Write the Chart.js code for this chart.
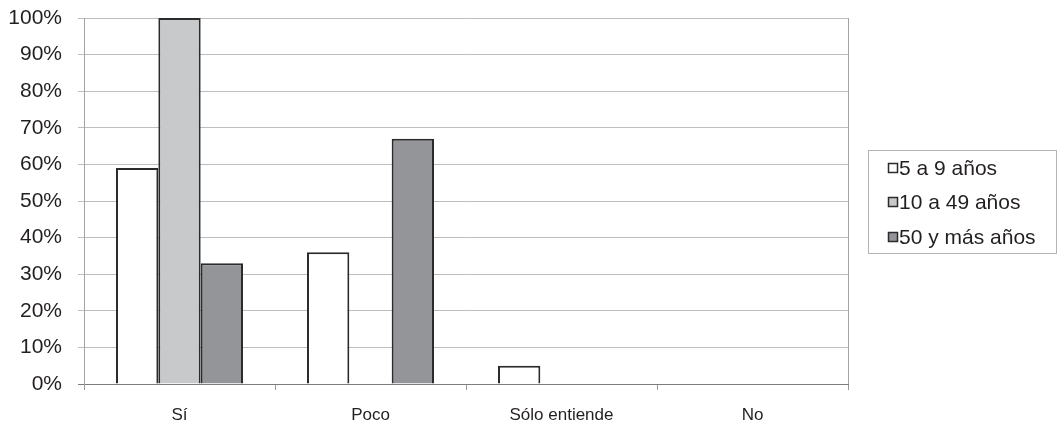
<!DOCTYPE html>
<html>
<head>
<meta charset="utf-8">
<script src="https://cdn.jsdelivr.net/npm/chart.js@4/dist/chart.umd.min.js"></script>
<style>
  html, body { margin: 0; padding: 0; background: #ffffff; }
  #wrap { width: 1060px; height: 426px; position: relative; }
</style>
</head>
<body>
<div id="wrap"><canvas id="c" width="1060" height="426"></canvas></div>
<script>
// ---- data ----
const categories = ["Sí", "Poco", "Sólo entiende", "No"];
const seriesNames = ["5 a 9 años", "10 a 49 años", "50 y más años"];
const values5a9 = [59, 36, 5, 0];
const values10a49 = [100, 0, 0, 0];
const values50ymas = [33, 67, 0, 0];
const yTicks = [0, 10, 20, 30, 40, 50, 60, 70, 80, 90, 100];

const fills = ["#ffffff", "#c8c9cb", "#939598"];
const edge = "#2b2b2b";
const textColor = "#231f20";
const fontFamily = "'Liberation Sans', Arial, Helvetica, sans-serif";

const seriesValues = [values5a9, values10a49, values50ymas];

const datasets = seriesValues.map((vals, i) => ({
  label: seriesNames[i],
  data: vals,
  backgroundColor: fills[i],
  borderColor: edge,
  borderWidth: (ctx) => (ctx.raw === 0 ? 0 : 2),
  barPercentage: 1,
  categoryPercentage: 0.665,
  borderSkipped: 'start'
}));

// custom legend + plot frame
const framePlugin = {
  id: 'frame',
  afterDraw(chart) {
    const ctx = chart.ctx;
    const a = chart.chartArea;
    ctx.save();
    // right frame line
    ctx.strokeStyle = '#a4a4a4';
    ctx.lineWidth = 1;
    ctx.beginPath();
    ctx.moveTo(Math.round(a.right) + 0.5, Math.round(a.top));
    ctx.lineTo(Math.round(a.right) + 0.5, Math.round(a.bottom));
    ctx.stroke();

    // legend box
    const bx = 868, by = 150, bw = 188, bh = 103;
    ctx.strokeStyle = '#b4b4b4';
    ctx.strokeRect(bx + 0.5, by + 0.5, bw, bh);
    const rowY = [168, 202, 237];
    ctx.font = '21px ' + fontFamily;
    ctx.textBaseline = 'middle';
    ctx.textAlign = 'left';
    chart.data.datasets.forEach((ds, i) => {
      const y = rowY[i];
      ctx.fillStyle = ds.backgroundColor;
      ctx.fillRect(888.5, y - 4.5, 9, 9);
      ctx.strokeStyle = edge;
      ctx.lineWidth = 1.5;
      ctx.strokeRect(888.5, y - 4.5, 9, 9);
      ctx.fillStyle = textColor;
      ctx.fillText(ds.label, 899, y + 1);
    });
    ctx.restore();
  }
};

new Chart(document.getElementById('c'), {
  type: 'bar',
  data: { labels: categories, datasets },
  plugins: [framePlugin],
  options: {
    responsive: false,
    animation: false,
    devicePixelRatio: 1,
    layout: { padding: { top: 18, right: 212, bottom: 0, left: 0 } },
    plugins: {
      legend: { display: false },
      tooltip: { enabled: false }
    },
    scales: {
      x: {
        offset: true,
        afterFit: (s) => { s.height = 42; s.paddingLeft = 0; s.paddingRight = 0; },
        grid: {
          display: true,
          drawOnChartArea: false,
          drawTicks: true,
          tickLength: 6,
          offset: true,
          color: '#9a9a9a'
        },
        border: { display: true, color: '#7d7d7d', width: 1 },
        ticks: {
          color: textColor,
          font: { family: fontFamily, size: 17 },
          padding: 15,
          maxRotation: 0
        }
      },
      y: {
        min: 0,
        max: 100,
        afterFit: (s) => { s.width = 84; s.paddingTop = 0; s.paddingBottom = 0; },
        afterBuildTicks: (s) => { s.ticks = yTicks.map(v => ({ value: v })); },
        grid: {
          color: (c) => (c.tick && c.tick.value === 0 ? '#7d7d7d' : '#bdbdbd'),
          lineWidth: 1,
          tickLength: 6,
          drawTicks: true
        },
        border: { display: true, color: '#a4a4a4', width: 1 },
        ticks: {
          color: textColor,
          font: { family: fontFamily, size: 21 },
          padding: 16,
          callback: (v) => v + '%'
        }
      }
    }
  }
});
</script>
</body>
</html>
